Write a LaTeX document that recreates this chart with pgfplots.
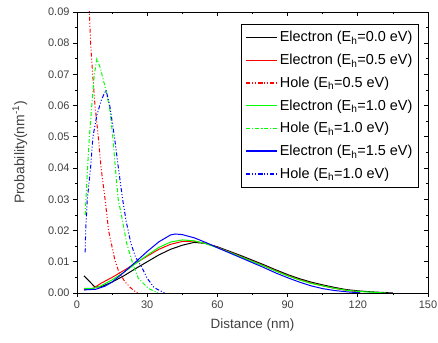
\documentclass[border=0pt]{standalone}
\usepackage{fontspec}
\setmainfont{Liberation Sans}
\usepackage{pgfplots}
\pgfplotsset{compat=1.18}
\begin{document}
\begin{tikzpicture}
\pgfplotsset{
  common/.style={
    scale only axis, width=351bp, height=281bp,
    xmin=0, xmax=150, ymin=0, ymax=0.09,
    xtick={0,30,60,90,120,150},
    ytick={0,0.01,0.02,0.03,0.04,0.05,0.06,0.07,0.08,0.09},
    minor x tick num=1, minor y tick num=1,
    major tick length=4bp, minor tick length=2bp,
    scaled ticks=false,
    axis line style={line width=0.9bp},
    every tick/.style={line width=0.8bp, black},
  }
}
\begin{axis}[common,
  tick align=outside, xtick pos=bottom, ytick pos=left,
  /pgf/number format/assume math mode=true,
  yticklabel style={/pgf/number format/fixed, /pgf/number format/fixed zerofill, /pgf/number format/precision=2, font=\fontsize{11}{13}\selectfont, text=black!75},
  xticklabel style={font=\fontsize{11}{13}\selectfont, text=black!75},
  xlabel={Distance (nm)},
  ylabel={Probability(nm\textsuperscript{-1})},
  xlabel style={font=\fontsize{13.5}{15}\selectfont, text=black!75, yshift=-4bp},
  ylabel style={font=\fontsize{14}{16}\selectfont, text=black!75, yshift=14bp},
  legend style={at={(0.974,0.957)}, anchor=north east, line width=0.9bp,
    font=\fontsize{14.5}{16}\selectfont, row sep=6.8bp, inner xsep=4bp, inner ysep=5bp},
  legend cell align=left,
  legend image code/.code={\draw[#1, line width=1.5bp] plot coordinates {(0bp,0bp) (15.5bp,0bp) (31bp,0bp)};},
  every axis plot/.append style={line width=1bp},
]
% Electron Eh=0.0
\addplot[color=black] coordinates {(3,0.0055)(5,0.004)(7.5,0.002)(10,0.0019)(15,0.0035)(20,0.0055)(25,0.0078)(30,0.0100)(35,0.0122)(40,0.0140)(45,0.0153)(50,0.0162)(55,0.0159)(60,0.0148)(65,0.0134)(70,0.0120)(75,0.0105)(80,0.0090)(85,0.0074)(90,0.0059)(95,0.0046)(100,0.0035)(105,0.0026)(110,0.0018)(115,0.0011)(120,0.0007)(125,0.0004)(130,0.0002)(135,0.0)};
\addlegendentry{Electron (E\textsubscript{h}=0.0 eV)}
% Electron Eh=0.5
\addplot[color=red] coordinates {(3,0.001)(7,0.0015)(10,0.003)(15,0.005)(20,0.0072)(25,0.0095)(30,0.0118)(35,0.0140)(40,0.0156)(45,0.0165)(50,0.0166)(55,0.0159)(60,0.0146)(65,0.0132)(70,0.0117)(75,0.0102)(80,0.0087)(85,0.0071)(90,0.0056)(95,0.0043)(100,0.0032)(105,0.0023)(110,0.0015)(115,0.0009)(120,0.0004)(121,0.0)};
\addlegendentry{Electron (E\textsubscript{h}=0.5 eV)}
% Hole Eh=0.5
\addplot[color=red, dash pattern=on 4bp off 2bp on 1bp off 2bp on 1bp off 2bp] coordinates {(4.8,0.1)(5.3,0.09)(5.8,0.08)(6.7,0.07)(7.7,0.06)(9.1,0.05)(10.3,0.04)(12,0.03)(13.5,0.02)(16.2,0.0105)(18,0.0065)(20.5,0.0036)(23,0.0016)(25,0.0004)(26,0.0)};
\addlegendentry{Hole (E\textsubscript{h}=0.5 eV)}
% Electron Eh=1.0
\addplot[color=green] coordinates {(3,0.0015)(7,0.0015)(10,0.0022)(15,0.0042)(20,0.0066)(25,0.0094)(30,0.0121)(35,0.0146)(40,0.0163)(45,0.0170)(50,0.0167)(55,0.0158)(60,0.0145)(65,0.0131)(70,0.0116)(75,0.0101)(80,0.0086)(85,0.0070)(90,0.0055)(95,0.0042)(100,0.0031)(105,0.0023)(110,0.0015)(115,0.0009)(120,0.0005)(125,0.0003)(132,0.0)};
\addlegendentry{Electron (E\textsubscript{h}=1.0 eV)}
% Hole Eh=1.0 (green)
\addplot[color=green, dash pattern=on 4bp off 2bp on 1bp off 2bp] coordinates {(3.5,0.025)(4.5,0.04)(5.3,0.05)(6.3,0.06)(7.4,0.07)(8.5,0.075)(10,0.072)(12,0.066)(14,0.059)(15.3,0.05)(16.4,0.04)(17.6,0.03)(19.1,0.0245)(21.2,0.016)(24,0.009)(26.2,0.0047)(30.5,0.0015)(34.6,0.0)};
\addlegendentry{Hole (E\textsubscript{h}=1.0 eV)}
% Electron Eh=1.5
\addplot[color=blue] coordinates {(3,0.001)(8,0.0012)(12,0.0022)(15,0.0035)(20,0.0066)(25,0.0099)(30,0.0133)(35,0.0164)(40,0.0186)(42,0.0189)(45,0.0187)(50,0.0177)(55,0.0162)(60,0.0145)(65,0.0129)(70,0.0113)(75,0.0097)(80,0.0081)(85,0.0064)(90,0.0049)(95,0.0035)(100,0.0023)(105,0.0014)(110,0.0008)(115,0.0004)(120,0.0001)(121,0.0)};
\addlegendentry{Electron (E\textsubscript{h}=1.5 eV)}
% Hole (blue)
\addplot[color=blue, dash pattern=on 4bp off 2bp on 1bp off 2bp on 1bp off 2bp] coordinates {(3.5,0.013)(3.7,0.02)(4.4,0.03)(5.8,0.04)(6.8,0.05)(8.5,0.057)(10.5,0.062)(12.4,0.065)(14,0.06)(16,0.05)(17.7,0.04)(19.5,0.03)(21,0.023)(23,0.016)(25,0.0115)(27.5,0.0085)(30,0.0047)(33,0.0017)(37.5,0.0)};
\addlegendentry{Hole (E\textsubscript{h}=1.0 eV)}
\end{axis}
\begin{axis}[common,
  tick align=inside, xtick pos=top, ytick pos=right,
  xticklabels={}, yticklabels={},
]
\end{axis}
\pgfresetboundingbox
\path (-77bp,-50bp) rectangle (361bp,293bp);
\end{tikzpicture}
\end{document}
